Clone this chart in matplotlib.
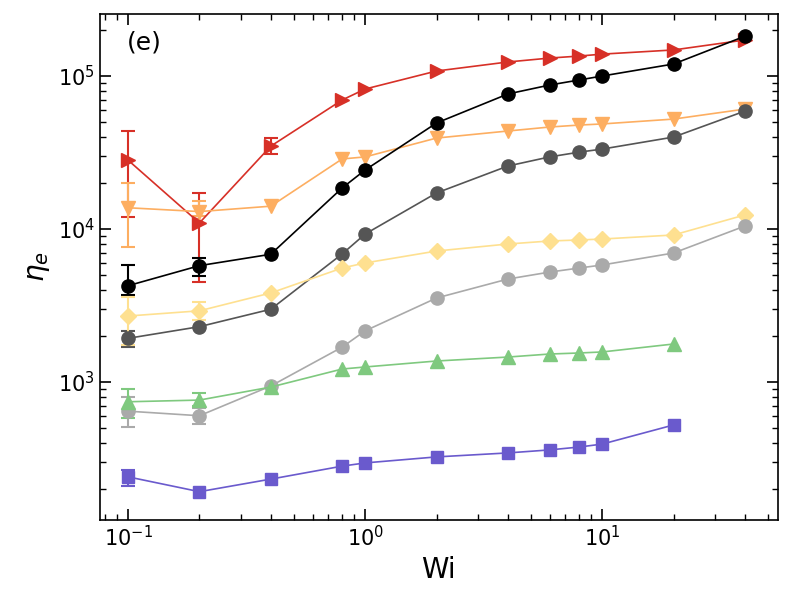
import matplotlib
matplotlib.use("Agg")
import matplotlib.pyplot as plt
import numpy as np

wi = [0.1, 0.2, 0.4, 0.8, 1, 2, 4, 6, 8, 10, 20, 40]

red = [28200, 10950, 34800, 69700, 82200, 107800, 123500, 131000, 135000, 139000, 148000, 172000]
orange = [13770, 13000, 14100, 28700, 29600, 39300, 43700, 46400, 47800, 48600, 52300, 60800]
black = [4260, 5760, 6840, 18550, 24300, 49300, 76300, 87300, 94200, 100000, 119800, 182000]
dgray = [1930, 2300, 2990, 6870, 9270, 17200, 25800, 29600, 31800, 33300, 39900, 59000]
yellow = [2700, 2920, 3820, 5560, 6000, 7180, 7980, 8350, 8480, 8600, 9140, 12360]
lgray = [645, 602, 942, 1690, 2160, 3540, 4710, 5230, 5560, 5820, 6970, 10460]
green = [743, 762, 927, 1216, 1254, 1372, 1456, 1524, 1548, 1572, 1772]
purple = [240, 192, 232, 282, 296, 324, 344, 360, 376, 393, 524]

# error bar bounds (low, high) for the first points of each series
red_err = [(11970, 43700), (4510, 17300), (30900, 39500)]
orange_err = [(7650, 19900), (12200, 15240)]
black_err = [(3700, 5820), (4950, 6460)]
dgray_err = [(1700, 2150)]
yellow_err = [(1750, 3600), (2540, 3310)]
lgray_err = [(511, 802), (530, 680)]
green_err = [(585, 896), (692, 851)]
purple_err = [(210, 266)]

series = [
    (red, red_err, "#d73027", ">"),
    (orange, orange_err, "#fdae61", "v"),
    (black, black_err, "black", "o"),
    (dgray, dgray_err, "#555555", "o"),
    (yellow, yellow_err, "#fee090", "D"),
    (lgray, lgray_err, "#aaaaaa", "o"),
    (green, green_err, "#7fc97f", "^"),
    (purple, purple_err, "#6a5acd", "s"),
]

fig = plt.figure(figsize=(7.92, 6), dpi=100)
ax = fig.add_axes([0.126, 0.133, 0.856, 0.844])

for y, err, color, marker in series:
    x = wi[:len(y)]
    ms = 8.5 if marker in ("D", "s") else 9.5
    ax.plot(x, y, color=color, marker=marker, ms=ms, lw=1.2, zorder=3)
    ex = wi[:len(err)]
    ey = y[:len(err)]
    lo = [ey[i] - err[i][0] for i in range(len(err))]
    hi = [err[i][1] - ey[i] for i in range(len(err))]
    ax.errorbar(ex, ey, yerr=[lo, hi], fmt="none", ecolor=color,
                capsize=5, elinewidth=1.5, capthick=1.5, zorder=2)

ax.set_xscale("log")
ax.set_yscale("log")
ax.set_xlim(0.076, 55)
ax.set_ylim(125, 2.55e5)
ax.set_xlabel("Wi", fontsize=20)
ax.set_ylabel(r"$\eta_e$", fontsize=20)
ax.tick_params(which="both", direction="in", top=True, right=True, labelsize=15)
ax.tick_params(which="major", length=8, width=1.2)
ax.tick_params(which="minor", length=4, width=1)
for s in ax.spines.values():
    s.set_linewidth(1.2)
ax.text(0.04, 0.93, "(e)", transform=ax.transAxes, fontsize=18)

fig.savefig("out.png", dpi=100)
